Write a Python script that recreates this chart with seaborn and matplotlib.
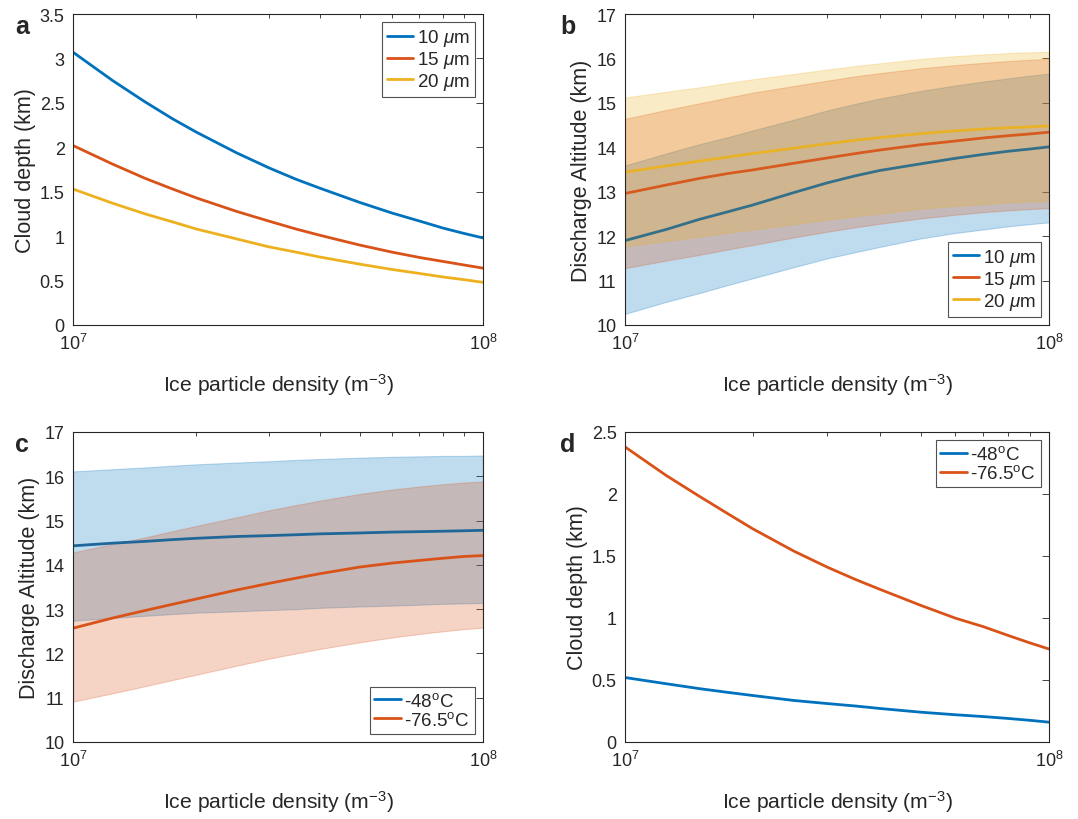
import numpy as np
import pandas as pd
import matplotlib
matplotlib.use("Agg")
import matplotlib.pyplot as plt
import seaborn as sns
from matplotlib.ticker import NullFormatter, MultipleLocator, FuncFormatter

# ---------------- data ----------------
density = [1e7, 1.25e7, 1.5e7, 1.75e7, 2e7, 2.5e7, 3e7, 3.5e7, 4e7,
           5e7, 6e7, 7e7, 8e7, 9e7, 1e8]

# panel a: cloud depth (km) vs particle size
a_10um = [3.07, 2.75, 2.51, 2.32, 2.17, 1.94, 1.77, 1.64, 1.54, 1.38, 1.26, 1.17, 1.09, 1.03, 0.98]
a_15um = [2.02, 1.81, 1.65, 1.53, 1.43, 1.28, 1.17, 1.08, 1.01, 0.90, 0.82, 0.76, 0.715, 0.675, 0.64]
a_20um = [1.53, 1.37, 1.25, 1.16, 1.08, 0.97, 0.88, 0.82, 0.765, 0.685, 0.625, 0.58, 0.54, 0.51, 0.48]

# panel b: discharge altitude (km) with ranges
b_10um = [11.9, 12.15, 12.38, 12.55, 12.7, 12.98, 13.2, 13.36, 13.48, 13.63, 13.75, 13.84, 13.91, 13.96, 14.01]
b_10um_hi = [13.59, 13.86, 14.07, 14.23, 14.38, 14.62, 14.83, 14.98, 15.1, 15.27, 15.39, 15.48, 15.55, 15.61, 15.66]
b_10um_lo = [10.25, 10.52, 10.72, 10.9, 11.05, 11.3, 11.5, 11.64, 11.76, 11.95, 12.07, 12.15, 12.22, 12.27, 12.31]
b_15um = [12.96, 13.15, 13.3, 13.41, 13.49, 13.64, 13.76, 13.86, 13.94, 14.06, 14.14, 14.21, 14.26, 14.30, 14.34]
b_15um_hi = [14.64, 14.84, 14.99, 15.12, 15.23, 15.38, 15.5, 15.6, 15.67, 15.78, 15.85, 15.9, 15.94, 15.97, 15.99]
b_15um_lo = [11.28, 11.45, 11.58, 11.7, 11.8, 11.97, 12.1, 12.2, 12.28, 12.4, 12.48, 12.54, 12.58, 12.61, 12.63]
b_20um = [13.44, 13.58, 13.69, 13.78, 13.86, 13.98, 14.08, 14.16, 14.22, 14.31, 14.37, 14.41, 14.44, 14.46, 14.48]
b_20um_hi = [15.12, 15.25, 15.35, 15.45, 15.53, 15.65, 15.75, 15.83, 15.89, 15.99, 16.05, 16.09, 16.12, 16.14, 16.15]
b_20um_lo = [11.77, 11.89, 11.99, 12.08, 12.15, 12.27, 12.37, 12.45, 12.51, 12.62, 12.68, 12.72, 12.76, 12.78, 12.8]

# panel c: discharge altitude (km) vs temperature
c_48 = [14.43, 14.49, 14.53, 14.57, 14.6, 14.64, 14.66, 14.68, 14.7, 14.72, 14.74, 14.75, 14.76, 14.77, 14.78]
c_48_hi = [16.11, 16.16, 16.2, 16.24, 16.27, 16.31, 16.34, 16.37, 16.39, 16.42, 16.44, 16.45, 16.46, 16.46, 16.47]
c_48_lo = [12.74, 12.8, 12.85, 12.89, 12.92, 12.95, 12.98, 13.0, 13.03, 13.06, 13.08, 13.1, 13.12, 13.13, 13.14]
c_765 = [12.57, 12.8, 12.97, 13.11, 13.23, 13.43, 13.58, 13.7, 13.8, 13.95, 14.04, 14.1, 14.15, 14.19, 14.21]
c_765_hi = [14.28, 14.47, 14.62, 14.76, 14.88, 15.07, 15.23, 15.35, 15.45, 15.6, 15.7, 15.77, 15.82, 15.86, 15.88]
c_765_lo = [10.91, 11.1, 11.26, 11.4, 11.52, 11.72, 11.88, 12.0, 12.1, 12.25, 12.36, 12.44, 12.5, 12.55, 12.58]

# panel d: cloud depth (km) vs temperature
d_48 = [0.52, 0.47, 0.43, 0.40, 0.375, 0.335, 0.31, 0.29, 0.27, 0.24, 0.22, 0.205, 0.19, 0.175, 0.16]
d_765 = [2.38, 2.15, 1.98, 1.84, 1.72, 1.54, 1.41, 1.31, 1.23, 1.10, 1.00, 0.93, 0.86, 0.80, 0.75]

size_labels = [r"10 $\mu$m", r"15 $\mu$m", r"20 $\mu$m"]
temp_labels = [r"-48$^{\rm o}$C", r"-76.5$^{\rm o}$C"]
xlabel = r"Ice particle density (m$^{-3}$)"

# ---------------- style ----------------
sns.set_style("white")
plt.rcParams["font.family"] = ["Liberation Sans", "DejaVu Sans"]
plt.rcParams["mathtext.fontset"] = "custom"
plt.rcParams["mathtext.rm"] = "Liberation Sans"
plt.rcParams["mathtext.it"] = "Liberation Sans:italic"
plt.rcParams["xtick.direction"] = "in"
plt.rcParams["ytick.direction"] = "in"

BLUE = "#0072BD"
RED = "#D95319"
YEL = "#EDB120"
TXT = "#262626"

fig = plt.figure(figsize=(10.78, 8.2), dpi=100)
W, H = 1078, 820


def add_ax(l, t, r, b):
    return fig.add_axes([l / W, 1 - b / H, (r - l) / W, (b - t) / H])


ax_a = add_ax(73, 15, 483, 326)
ax_b = add_ax(625, 15, 1049, 326)
ax_c = add_ax(73, 433, 483, 743)
ax_d = add_ax(625, 433, 1049, 743)


def line(ax, y, color, label):
    df = pd.DataFrame({"x": density, "y": y})
    sns.lineplot(data=df, x="x", y="y", ax=ax, color=color, lw=2.0, label=label)


def band(ax, lo, hi, color):
    ax.fill_between(density, lo, hi, facecolor=color, alpha=0.25,
                    edgecolor=color, linewidth=0.8)


def style(ax, ylim, ystep, ylabel, letter, letter_x, legend_loc):
    ax.set_xscale("log")
    ax.set_xlim(1e7, 1e8)
    ax.set_ylim(*ylim)
    ax.yaxis.set_major_locator(MultipleLocator(ystep))
    ax.xaxis.set_minor_formatter(NullFormatter())
    ax.yaxis.set_major_formatter(FuncFormatter(lambda v, p: f"{v:g}"))
    ax.tick_params(which="both", top=True, right=True, colors=TXT,
                   labelsize=13, width=0.6)
    ax.tick_params(which="major", length=5, pad=6)
    ax.tick_params(which="minor", length=3)
    for s in ax.spines.values():
        s.set_color(TXT)
        s.set_linewidth(0.8)
    ax.set_xlabel(xlabel, fontsize=15.2, color=TXT, labelpad=13)
    ax.set_ylabel(ylabel, fontsize=15.5, color=TXT, labelpad=3)
    ax.text(letter_x, 1.0, letter, transform=ax.transAxes, fontsize=18,
            fontweight="bold", va="top", ha="left")
    leg = ax.legend(loc=legend_loc, fontsize=13.5, frameon=True, fancybox=False,
                    edgecolor=TXT, handlelength=1.4, handletextpad=0.2,
                    borderpad=0.25, labelspacing=0.05, borderaxespad=0.45)
    leg.get_frame().set_linewidth(0.8)


# panel a
for y, c, lab in zip([a_10um, a_15um, a_20um], [BLUE, RED, YEL], size_labels):
    line(ax_a, y, c, lab)
style(ax_a, (0, 3.5), 0.5, "Cloud depth (km)", "a", -0.142, "upper right")

# panel b
band(ax_b, b_10um_lo, b_10um_hi, BLUE)
band(ax_b, b_15um_lo, b_15um_hi, RED)
band(ax_b, b_20um_lo, b_20um_hi, YEL)
for y, c, lab in zip([b_10um, b_15um, b_20um], ["#35708a", "#D75a1e", "#E9B226"], size_labels):
    line(ax_b, y, c, lab)
style(ax_b, (10, 17), 1, "Discharge Altitude (km)", "b", -0.153, "lower right")
for h, c in zip(ax_b.get_legend().get_lines(), [BLUE, RED, YEL]):
    h.set_color(c)

# panel c
band(ax_c, c_48_lo, c_48_hi, BLUE)
band(ax_c, c_765_lo, c_765_hi, RED)
line(ax_c, c_48, "#1f6699", temp_labels[0])
line(ax_c, c_765, RED, temp_labels[1])
style(ax_c, (10, 17), 1, "Discharge Altitude (km)", "c", -0.142, "lower right")
for h, c in zip(ax_c.get_legend().get_lines(), [BLUE, RED]):
    h.set_color(c)

# panel d
line(ax_d, d_48, BLUE, temp_labels[0])
line(ax_d, d_765, RED, temp_labels[1])
style(ax_d, (0, 2.5), 0.5, "Cloud depth (km)", "d", -0.153, "upper right")

fig.savefig("out.png", dpi=100)
